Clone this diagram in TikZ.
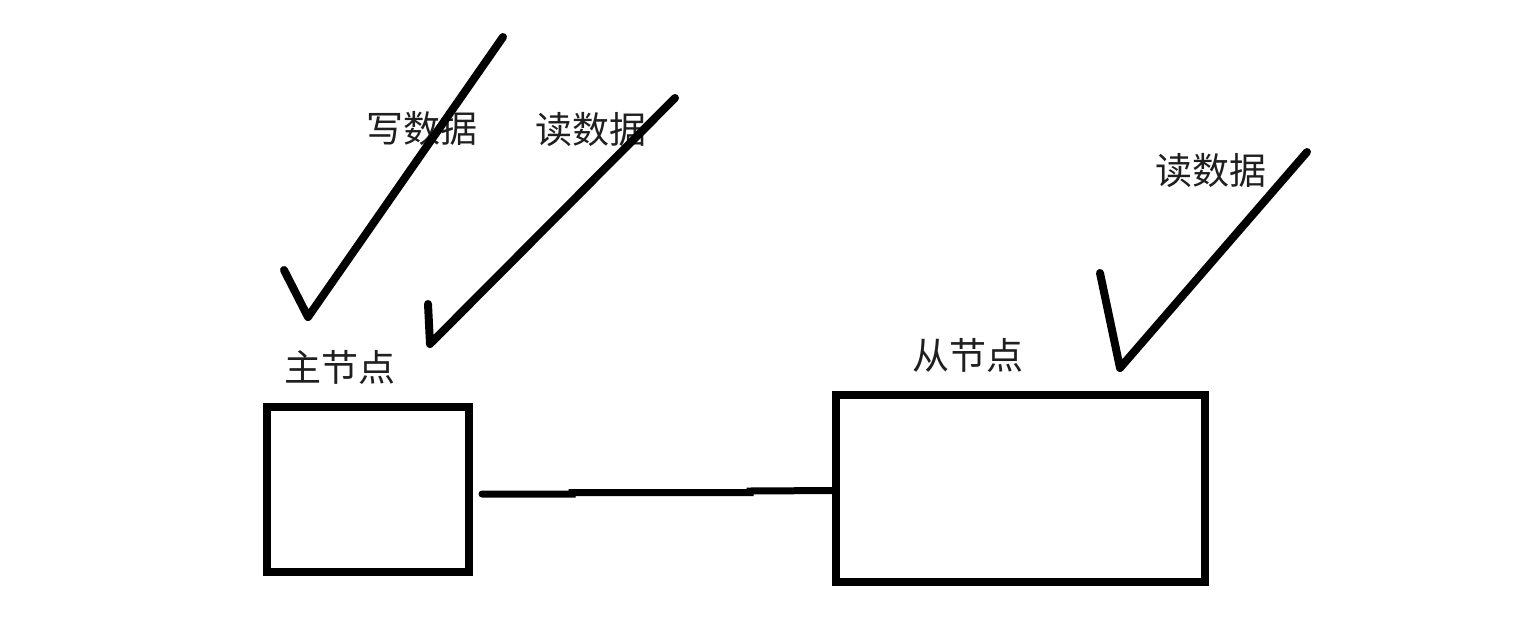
\documentclass[tikz,border=0pt]{standalone}
\usepackage{fontspec}
\newfontfamily\cjk{Noto Sans CJK SC}
\usetikzlibrary{calc}
\begin{document}
\begin{tikzpicture}[x=1pt,y=-1pt,
  stroke/.style={line width=8pt,line cap=round,line join=round,black},
  boxnode/.style={draw,line width=8pt,black,inner sep=0pt,outer sep=0pt,anchor=north west},
  lbl/.style={font=\cjk\fontsize{37}{37}\selectfont,text=black!88,inner sep=0pt}]
\useasboundingbox (0,0) rectangle (1530,642);
% labels
\node[lbl] (tw) at (422,128) {写数据};
\node[lbl] (tr1) at (591,130) {读数据};
\node[lbl] (tr2) at (1211,171) {读数据};
\node[lbl] (tm) at (340,367) {主节点};
\node[lbl] (ts) at (968,355) {从节点};
% boxes
\node[boxnode,minimum width=202pt,minimum height=165pt] (m) at (267,407) {};
\node[boxnode,minimum width=369pt,minimum height=187pt] (s) at (836,395) {};
% ticks
\coordinate (w1) at (284,270);
\coordinate (w2) at (308,317);
\coordinate (w3) at (503,37);
\draw[stroke] (w1) -- (w2) -- (w3);
\coordinate (r1) at (428,304);
\coordinate (r2) at (430,344);
\coordinate (r3) at (675,98);
\draw[stroke] (r1) -- (r2) -- (r3);
\coordinate (q1) at (1100,273);
\coordinate (q2) at (1120,368);
\coordinate (q3) at (1307,152);
\draw[stroke] (q1) -- (q2) -- (q3);
% connector
\draw[line width=7pt,line cap=round,black] ($(m.east)+(13,4.5)$) -- ++(90,0) -- ++(0,-1.5) -- ++(178,0) -- ++(0,-1.5) -- ($(s.west)+(0,2)$);
\end{tikzpicture}
\end{document}
